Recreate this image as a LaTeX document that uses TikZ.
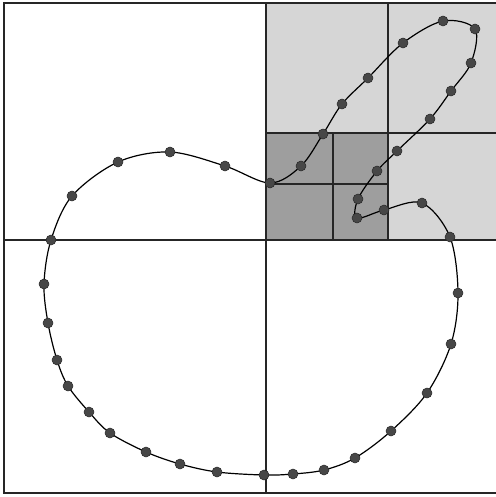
\documentclass[tikz,border=0pt]{standalone}
\begin{document}
\begin{tikzpicture}[x=1pt,y=-1pt,
  gridline/.style={line width=1.4pt,draw=black!85},
  curveline/.style={line width=1.2pt,draw=black},
  dotnode/.style={circle,fill=black!72,draw=black!85,line width=0.5pt,minimum size=10pt,inner sep=0pt}]
\useasboundingbox (0,0) rectangle (495,497);
% shaded cells
\fill[black!16] (266,3) rectangle (496,240);
\fill[black!38] (266,133) rectangle (388,240);
% grid
\draw[gridline] (496,3) -- (4,3) -- (4,493) -- (496,493);
\draw[gridline] (266,3) -- (266,493);
\draw[gridline] (4,240) -- (496,240);
\draw[gridline] (388,3) -- (388,240);
\draw[gridline] (266,133) -- (496,133);
\draw[gridline] (333,133) -- (333,240);
\draw[gridline] (266,184) -- (388,184);
% points
\foreach \n/\px/\py in {
 1/270/183, 2/225/166, 3/170/152, 4/118/162, 5/72/196,
 6/51/240, 7/44/284, 8/48/323, 9/57/360, 10/68/386,
 11/89/412, 12/110/433, 13/146/452, 14/180/464, 15/217/472,
 16/264/475, 17/293/474, 18/324/470, 19/355/458, 20/391/431,
 21/427/393, 22/451/344, 23/458/293, 24/450/237, 25/422/203,
 26/384/210, 27/357/218, 28/358/199, 29/377/171, 30/397/151,
 31/430/119, 32/451/91, 33/471/63, 34/475/29, 35/443/21,
 36/403/43, 37/368/78, 38/342/104, 39/323/134, 40/301/166}
 { \coordinate (c\n) at (\px,\py); }
\draw[curveline] plot[smooth cycle,tension=0.55] coordinates {
 (c1) (c2) (c3) (c4) (c5) (c6) (c7) (c8) (c9) (c10)
 (c11) (c12) (c13) (c14) (c15) (c16) (c17) (c18) (c19) (c20)
 (c21) (c22) (c23) (c24) (c25) (c26) (c27) (c28) (c29) (c30)
 (c31) (c32) (c33) (c34) (c35) (c36) (c37) (c38) (c39) (c40)};
\foreach \n in {1,...,40} { \node[dotnode] (d\n) at (c\n) {}; }
\end{tikzpicture}
\end{document}
